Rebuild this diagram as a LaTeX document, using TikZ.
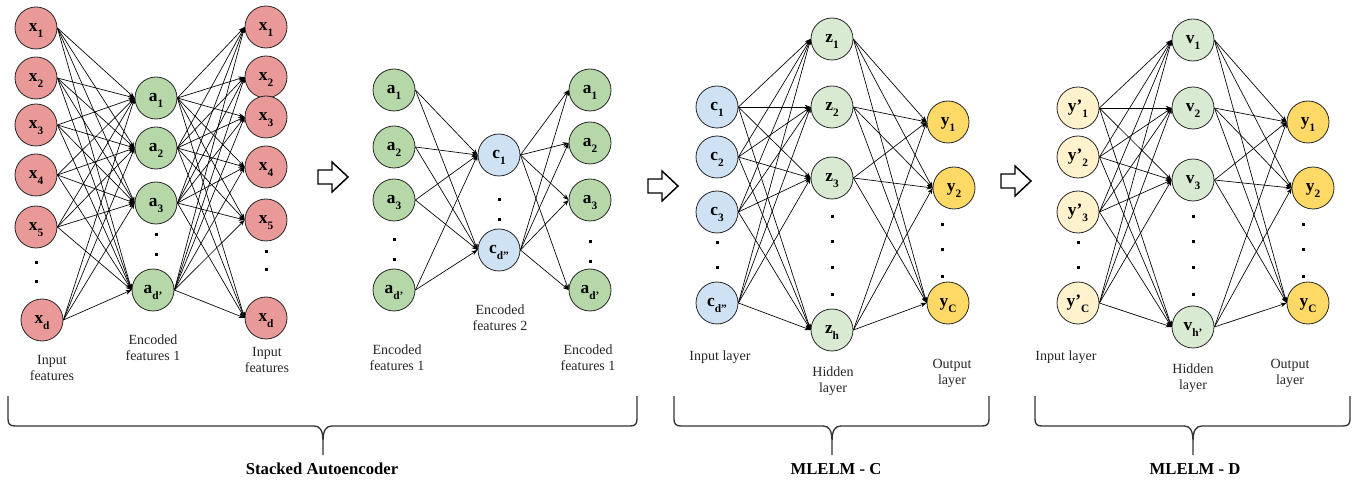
\documentclass[tikz,border=0pt]{standalone}
\usepackage{fontspec}
\setmainfont{Liberation Serif}
\usetikzlibrary{arrows.meta}

\definecolor{redfill}{HTML}{EA9999}
\definecolor{greenfill}{HTML}{B6D7A8}
\definecolor{bluefill}{HTML}{CFE2F3}
\definecolor{palegreen}{HTML}{D9EAD3}
\definecolor{goldfill}{HTML}{FFD966}
\definecolor{creamfill}{HTML}{FFF2CC}

% letter with a lowered index, as the circles show it
\newcommand{\nd}[2]{#1\raisebox{-3.8pt}[0pt][0pt]{\fontsize{8.5}{8.5}\selectfont #2}}

\tikzset{
  neuron/.style={circle,draw=black!85,line width=0.6pt,minimum size=31.5pt,inner sep=0pt,
    text height=6pt,text depth=0pt,font=\bfseries\fontsize{13}{13}\selectfont},
  redn/.style={neuron,fill=redfill},
  greenn/.style={neuron,fill=greenfill},
  bluen/.style={neuron,fill=bluefill},
  paleg/.style={neuron,fill=palegreen},
  goldn/.style={neuron,fill=goldfill},
  creamn/.style={neuron,fill=creamfill},
  link/.style={-{Stealth[length=4.5pt,width=3.4pt]},line width=0.5pt},
  lbl/.style={align=center,text=black!85,font=\fontsize{10.5}{12}\selectfont},
  title/.style={font=\bfseries\fontsize{12.5}{14}\selectfont},
  brace/.style={line width=1pt,draw=black!80,line join=round},
  fatarrow/.pic={\draw[line width=1.1pt,fill=white] (0,-7) -- (14,-7) -- (14,-15) -- (30,0) -- (14,15) -- (14,7) -- (0,7) -- cycle;}
}

\begin{document}
\begin{tikzpicture}[x=0.75pt,y=0.75pt,yscale=-1,xscale=1]
\path[use as bounding box] (0,0) rectangle (1363,484);

%Stacked autoencoder, first net
\foreach \i/\px/\py/\s in {1/36/28/1,2/36/78/2,3/36/125/3,4/36/175/4,5/36/227/5,6/42/320/d}
  \node[redn] (xi\i) at (\px,\py) {\nd{x}{\s}};
\foreach \i/\px/\py/\s in {1/156/98/1,2/156/148/2,3/156/203/3,4/153/290/d’}
  \node[greenn] (ea\i) at (\px,\py) {\nd{a}{\s}};
\foreach \i/\px/\py/\s in {1/266/27/1,2/266/77/2,3/266/117/3,4/266/167/4,5/266/220/5,6/266/318/d}
  \node[redn] (xo\i) at (\px,\py) {\nd{x}{\s}};
\foreach \i in {1,...,6}{\foreach \j in {1,...,4}{\draw[link] (xi\i.east) -- (ea\j.west);}}
\foreach \i in {1,...,4}{\foreach \j in {1,...,6}{\draw[link] (ea\i.east) -- (xo\j.west);}}

%Stacked autoencoder, second net
\foreach \i/\px/\py/\s in {1/394/90/1,2/394/147/2,3/394/200/3,4/394/290/d’}
  \node[greenn] (ai\i) at (\px,\py) {\nd{a}{\s}};
\foreach \i/\px/\py/\s in {1/499/155/1,2/499/250/d”}
  \node[bluen] (cc\i) at (\px,\py) {\nd{c}{\s}};
\foreach \i/\px/\py/\s in {1/590/90/1,2/590/143/2,3/590/200/3,4/590/290/d’}
  \node[greenn] (ao\i) at (\px,\py) {\nd{a}{\s}};
\foreach \i in {1,...,4}{\foreach \j in {1,2}{\draw[link] (ai\i.east) -- (cc\j.west);}}
\foreach \i in {1,2}{\foreach \j in {1,...,4}{\draw[link] (cc\i.east) -- (ao\j.west);}}

%MLELM - C
\foreach \i/\px/\py/\s in {1/717/107/1,2/717/157/2,3/717/212/3,4/717/303/d”}
  \node[bluen] (ci\i) at (\px,\py) {\nd{c}{\s}};
\foreach \i/\px/\py/\s in {1/832/39/1,2/832/107/2,3/832/178/3,4/832/330/h}
  \node[paleg] (zh\i) at (\px,\py) {\nd{z}{\s}};
\foreach \i/\px/\py/\s in {1/948/122/1,2/954/188/2,3/948/303/C}
  \node[goldn] (yc\i) at (\px,\py) {\nd{y}{\s}};
\foreach \i in {1,...,4}{\foreach \j in {1,...,4}{\draw[link] (ci\i.east) -- (zh\j.west);}}
\foreach \i in {1,...,4}{\foreach \j in {1,2,3}{\draw[link] (zh\i.east) -- (yc\j.west);}}

%MLELM - D
\foreach \i/\px/\py/\s in {1/1078/108/1,2/1078/157/2,3/1078/212/3,4/1078/303/C}
  \node[creamn] (yi\i) at (\px,\py) {\nd{y’}{\s}};
\foreach \i/\px/\py/\s in {1/1193/40/1,2/1193/108/2,3/1193/180/3,4/1193/327/h’}
  \node[paleg] (vh\i) at (\px,\py) {\nd{v}{\s}};
\foreach \i/\px/\py/\s in {1/1308/122/1,2/1313/188/2,3/1308/303/C}
  \node[goldn] (yd\i) at (\px,\py) {\nd{y}{\s}};
\foreach \i in {1,...,4}{\foreach \j in {1,...,4}{\draw[link] (yi\i.east) -- (vh\j.west);}}
\foreach \i in {1,...,4}{\foreach \j in {1,2,3}{\draw[link] (vh\i.east) -- (yd\j.west);}}

%Dots between the circles
\foreach \dx/\dy in {36/263,36/282,156/235,156/255,266/252,266/270,
    394/240,394/260,499/200,499/220,590/242,590/262,
    717/243,717/268,832/217,832/242,832/268,832/295,942/225,942/250,942/277,
    1078/243,1078/268,1193/217,1193/242,1193/268,1193/295,1303/225,1303/250,1303/277}
  \fill (\dx-1.5,\dy-1.5) rectangle ++(3,3);

%Hollow arrows
\pic at (318,177) {fatarrow};
\pic at (648,186) {fatarrow};
\pic at (1001,181) {fatarrow};

%Braces
\draw[brace] (8,396) -- (8,419) .. controls (8,424) and (10,426) .. (15,426) -- (314,426)
  .. controls (320,426) and (323,430) .. (323,442) -- (323,455)
  (323,442) .. controls (323,430) and (326,426) .. (332,426) -- (630,426)
  .. controls (635,426) and (637,424) .. (637,419) -- (637,396);
\draw[brace] (674,396) -- (674,419) .. controls (674,424) and (676,426) .. (681,426) -- (823,426)
  .. controls (829,426) and (832,430) .. (832,442) -- (832,455)
  (832,442) .. controls (832,430) and (835,426) .. (841,426) -- (982,426)
  .. controls (987,426) and (989,424) .. (989,419) -- (989,396);
\draw[brace] (1035,396) -- (1035,419) .. controls (1035,424) and (1037,426) .. (1042,426) -- (1184,426)
  .. controls (1190,426) and (1193,430) .. (1193,442) -- (1193,455)
  (1193,442) .. controls (1193,430) and (1196,426) .. (1202,426) -- (1343,426)
  .. controls (1348,426) and (1350,424) .. (1350,419) -- (1350,396);

% Text Node
\node[lbl] (lin1) at (52,368) {Input\\features};
% Text Node
\node[lbl] (lenc1) at (153,348) {Encoded\\features 1};
% Text Node
\node[lbl] (lout1) at (267,360) {Input\\features};
% Text Node
\node[lbl] (lenc2) at (500,318) {Encoded\\features 2};
% Text Node
\node[lbl] (lin2) at (397,358) {Encoded\\features 1};
% Text Node
\node[lbl] (lout2) at (588,358) {Encoded\\features 1};
% Text Node
\node[lbl] (linc) at (720,357) {Input layer};
% Text Node
\node[lbl] (lhidc) at (833,381) {Hidden\\layer};
% Text Node
\node[lbl] (loutc) at (952,373) {Output\\layer};
% Text Node
\node[lbl] (lind) at (1066,357) {Input layer};
% Text Node
\node[lbl] (lhidd) at (1193,378) {Hidden\\layer};
% Text Node
\node[lbl] (loutd) at (1290,373) {Output\\layer};
% Text Node
\node[title] (tsae) at (322,469) {Stacked Autoencoder};
% Text Node
\node[title] (tmc) at (836,469) {MLELM - C};
% Text Node
\node[title] (tmd) at (1195,469) {MLELM - D};

\end{tikzpicture}
\end{document}
